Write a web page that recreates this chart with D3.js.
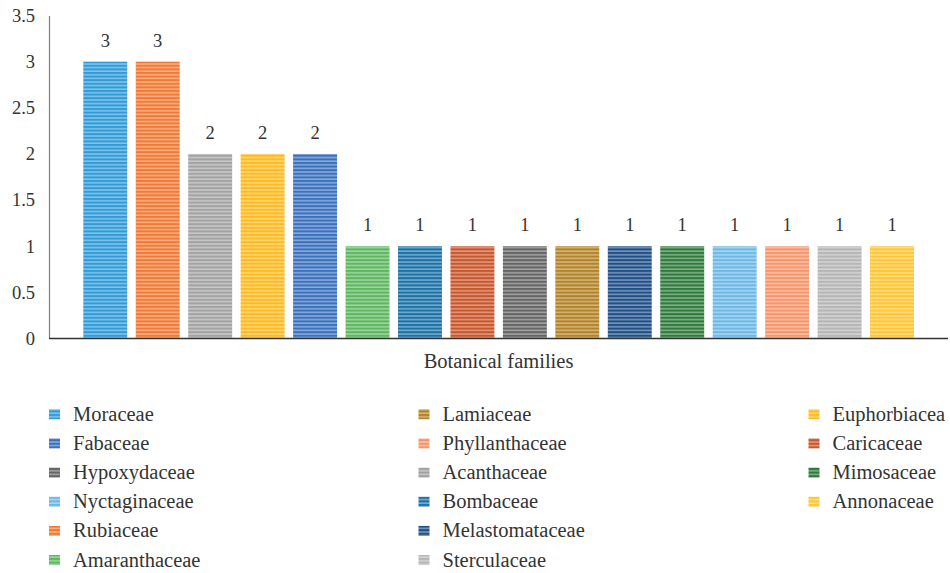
<!DOCTYPE html>
<html><head><meta charset="utf-8">
<script src="https://cdn.jsdelivr.net/npm/d3@7"></script>
<style>body{margin:0;background:#fff}svg{display:block}</style>
</head><body>
<svg id="c" width="950" height="573"></svg>
<script>
const families = ["Moraceae","Rubiaceae","Acanthaceae","Euphorbiacea","Fabaceae","Amaranthaceae","Bombaceae","Caricaceae","Hypoxydaceae","Lamiaceae","Melastomataceae","Mimosaceae","Nyctaginaceae","Phyllanthaceae","Sterculaceae","Annonaceae"];
const counts = [3,3,2,2,2,1,1,1,1,1,1,1,1,1,1,1];
const colors = ["#2f9bd8","#f07a34","#a2a2a2","#fdbb20","#3a71bf","#5cb75f","#1b72a7","#c9552a","#646464","#b38325","#1f4f88","#2e7a3b","#6cb8e6","#f7956a","#b5b5b5","#ffc634"];
const legendOrder = ["Moraceae","Fabaceae","Hypoxydaceae","Nyctaginaceae","Rubiaceae","Amaranthaceae","Lamiaceae","Phyllanthaceae","Acanthaceae","Bombaceae","Melastomataceae","Sterculaceae","Euphorbiacea","Caricaceae","Mimosaceae","Annonaceae"];
const yTicks = [0,0.5,1,1.5,2,2.5,3,3.5];
const xTitle = "Botanical families";

const svg = d3.select("#c");
const font = "'Liberation Serif','Times New Roman','DejaVu Serif',serif";
const defs = svg.append("defs");
families.forEach((f,i)=>{
  const p = defs.append("pattern").attr("id","p"+i).attr("patternUnits","userSpaceOnUse")
    .attr("width",8).attr("height",3.6);
  p.append("rect").attr("width",8).attr("height",3.6).attr("fill",colors[i]);
  p.append("rect").attr("y",2.1).attr("width",8).attr("height",1.4).attr("fill","#fff").attr("opacity",0.45);
});

const y = d3.scaleLinear().domain([0,3.5]).range([338.5,15.5]);
const x = d3.scaleBand().domain(families).range([83.3,914]).paddingInner(0.162).paddingOuter(0);

// y axis
const yAxis = d3.axisLeft(y).tickValues(yTicks).tickSize(0).tickPadding(14).tickFormat(d3.format("~g"));
const ga = svg.append("g").attr("transform","translate(49,0)").call(yAxis);
ga.select(".domain").attr("stroke","#7f7f7f").attr("stroke-width",1.2);
ga.selectAll("text").attr("font-family",font).attr("font-size",18.5).attr("fill","#333");

// bars
svg.append("g").selectAll("rect").data(families).join("rect")
  .attr("x",d=>x(d)).attr("width",x.bandwidth())
  .attr("y",(d,i)=>y(counts[i])).attr("height",(d,i)=>y(0)-y(counts[i]))
  .attr("fill",(d,i)=>"url(#p"+i+")");

// value labels
svg.append("g").selectAll("text").data(families).join("text")
  .attr("x",d=>x(d)+x.bandwidth()/2).attr("y",(d,i)=>y(counts[i])-15)
  .attr("text-anchor","middle").attr("font-family",font).attr("font-size",18.5).attr("fill","#333")
  .text((d,i)=>counts[i]);

// baseline
svg.append("line").attr("x1",49).attr("x2",948).attr("y1",y(0)).attr("y2",y(0)).attr("stroke","#333").attr("stroke-width",1.4);

// x title
svg.append("text").attr("x",(49+948)/2).attr("y",368).attr("text-anchor","middle")
  .attr("font-family",font).attr("font-size",20.5).attr("fill","#333").text(xTitle);

// legend
const colX = [49,418.5,808.5];
const rowY0 = 414.3, rowStep = 29.15;
const lg = svg.append("g");
legendOrder.forEach((name,k)=>{
  const col = Math.floor(k/6), row = k%6;
  const i = families.indexOf(name);
  const cx = colX[col], cy = rowY0 + row*rowStep;
  lg.append("rect").attr("x",cx).attr("y",cy-5).attr("width",11).attr("height",10).attr("fill","url(#p"+i+")");
  lg.append("text").attr("x",cx+24).attr("y",cy+6.5).attr("font-family",font).attr("font-size",20.5).attr("fill","#333").text(name);
});
</script>
</body></html>
